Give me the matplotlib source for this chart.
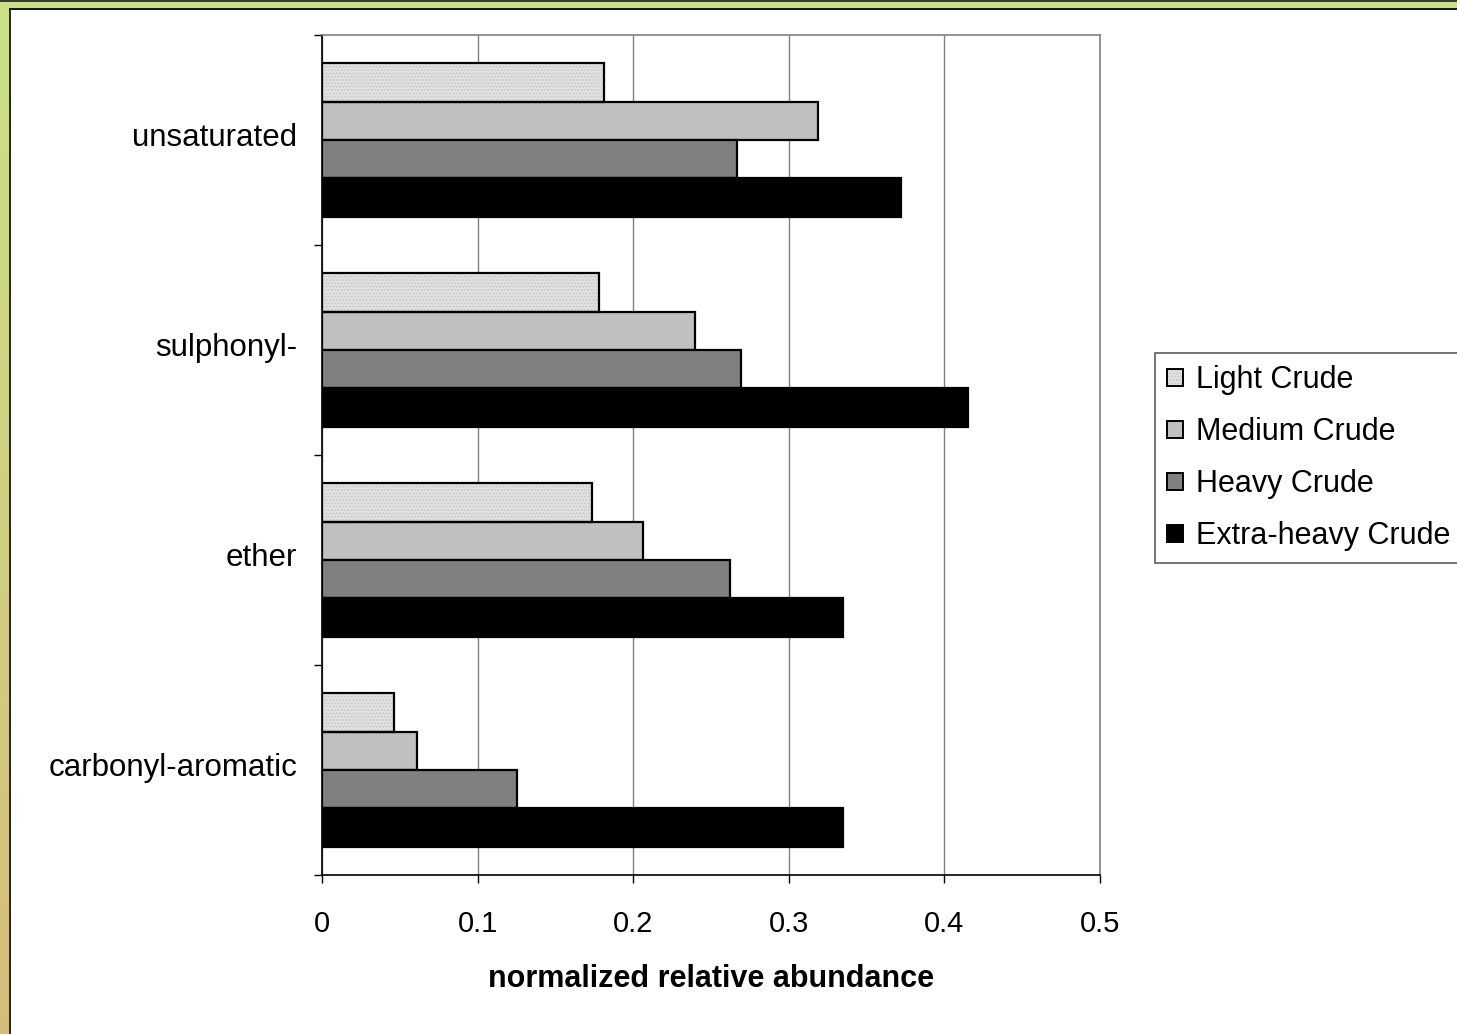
import numpy as np
import matplotlib
matplotlib.use('Agg')
import matplotlib.pyplot as plt
from matplotlib.patches import Patch, Rectangle

plt.rcParams['font.family'] = ['Liberation Sans', 'DejaVu Sans']

categories = ['carbonyl-aromatic', 'ether', 'sulphonyl-', 'unsaturated']
series = ['Light Crude', 'Medium Crude', 'Heavy Crude', 'Extra-heavy Crude']
light = [0.046, 0.1735, 0.178, 0.181]
medium = [0.061, 0.206, 0.240, 0.319]
heavy = [0.125, 0.262, 0.269, 0.267]
extra = [0.335, 0.335, 0.415, 0.372]
xticks = [0, 0.1, 0.2, 0.3, 0.4, 0.5]
xticklabels = ['0', '0.1', '0.2', '0.3', '0.4', '0.5']

colors = ['#e2e2e2', '#c0c0c0', '#808080', '#000000']
values = [light, medium, heavy, extra]

fig = plt.figure(figsize=(14.57, 10.34), dpi=100)
fig.patch.set_facecolor('white')

# frame strips on left and top
grad = fig.add_axes([0, 0, 9 / 1457, 1])
g = np.linspace(0, 1, 256).reshape(-1, 1)
top_c = np.array([0.79, 0.88, 0.54])
bot_c = np.array([0.84, 0.74, 0.48])
img = top_c * (1 - g[..., None]) + bot_c * g[..., None]
grad.imshow(img, aspect='auto', extent=[0, 1, 0, 1])
grad.axis('off')
fig.add_artist(Rectangle((9 / 1457, 0), 1.5 / 1457, 1 - 8 / 1034, transform=fig.transFigure,
                         color='#2a2a2a', lw=0))
fig.add_artist(Rectangle((0, 1 - 8 / 1034), 1, 6 / 1034, transform=fig.transFigure,
                         color='#c8e08a', lw=0))
fig.add_artist(Rectangle((0, 1 - 2 / 1034), 1, 2 / 1034, transform=fig.transFigure,
                         color='#3a3a3a', lw=0))
fig.add_artist(Rectangle((9 / 1457, 1 - 9.5 / 1034), 1, 1.5 / 1034, transform=fig.transFigure,
                         color='#1a1a1a', lw=0))

ax = fig.add_axes([322 / 1457, 1 - 875 / 1034, 778 / 1457, 840 / 1034])

y = np.arange(len(categories))
h = 0.183
offsets = [1.5 * h, 0.5 * h, -0.5 * h, -1.5 * h]
for vals, c, off in zip(values, colors, offsets):
    if c == '#e2e2e2':
        ax.barh(y + off, vals, height=h, color=c, edgecolor='#c8c8c8', hatch='.....',
                linewidth=0, zorder=3)
        ax.barh(y + off, vals, height=h, facecolor='none', edgecolor='black',
                linewidth=1.6, zorder=4)
    else:
        ax.barh(y + off, vals, height=h, color=c, edgecolor='black', linewidth=1.6, zorder=3)

ax.set_xlim(0, 0.5)
ax.set_ylim(-0.5, 3.5)
ax.set_xticks(xticks)
ax.set_xticklabels(xticklabels, fontsize=21)
ax.set_yticks(np.arange(-0.5, 4, 1))
ax.set_yticklabels([])
# labels sit a little above the group centre, as in the original
ax.set_yticks(y + 0.025, minor=True)
ax.set_yticklabels(categories, minor=True, fontsize=22.5)
ax.tick_params(axis='y', which='minor', length=0, pad=18)
ax.tick_params(axis='y', which='major', length=6, width=1, direction='out')
ax.tick_params(axis='x', length=6, width=1, direction='out', pad=19)
ax.grid(axis='x', color='#808080', linewidth=1, zorder=0)
ax.set_axisbelow(True)
for s in ['top', 'right']:
    ax.spines[s].set_color('#808080')
    ax.spines[s].set_linewidth(1.2)
for s in ['left', 'bottom']:
    ax.spines[s].set_color('black')
    ax.spines[s].set_linewidth(1.2)
ax.set_xlabel('normalized relative abundance', fontsize=22, fontweight='bold', labelpad=19)

handles = []
for i, c in enumerate(colors):
    if i == 0:
        handles.append((Patch(facecolor=c, edgecolor='#c8c8c8', hatch='.....', linewidth=0),
                        Patch(facecolor='none', edgecolor='black', linewidth=1.4)))
    else:
        handles.append(Patch(facecolor=c, edgecolor='black', linewidth=1.4))
leg = fig.legend(handles, series, loc='upper left', bbox_to_anchor=(1155 / 1457, 1 - 353 / 1034),
                 bbox_transform=fig.transFigure, fontsize=22, frameon=True, fancybox=False,
                 handlelength=0.5, handleheight=0.5, handletextpad=0.45, labelspacing=0.72,
                 borderpad=0.4, borderaxespad=0)
leg.get_frame().set_edgecolor('#333333')
leg.get_frame().set_linewidth(1.2)

fig.savefig('out.png', dpi=100, facecolor='white')
